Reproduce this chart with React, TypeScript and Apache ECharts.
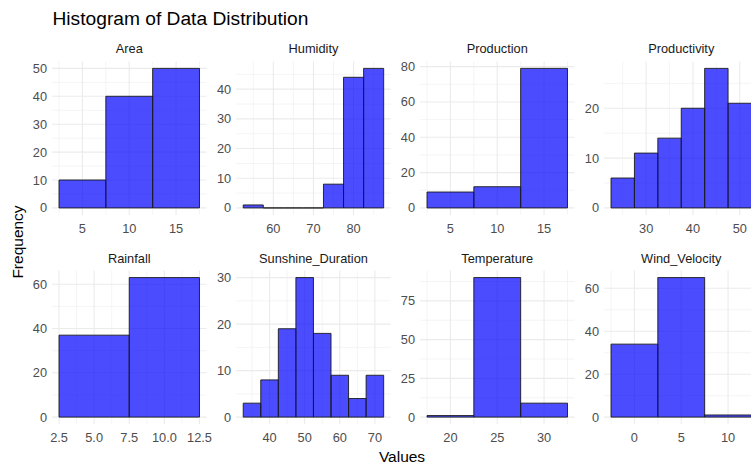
import React, { useEffect, useRef } from "react";
import * as echarts from "echarts";

// ---------- data ----------
const variables = [
  "Area",
  "Humidity",
  "Production",
  "Productivity",
  "Rainfall",
  "Sunshine_Duration",
  "Temperature",
  "Wind_Velocity",
];
const binWidth = 5;
const areaBinStarts = [2.5, 7.5, 12.5];
const areaCounts = [10, 40, 50];
const humidityBinStarts = [52.5, 57.5, 62.5, 67.5, 72.5, 77.5, 82.5];
const humidityCounts = [1, 0, 0, 0, 8, 44, 47];
const productionBinStarts = [2.5, 7.5, 12.5];
const productionCounts = [9, 12, 79];
const productivityBinStarts = [22.5, 27.5, 32.5, 37.5, 42.5, 47.5];
const productivityCounts = [6, 11, 14, 20, 28, 21];
const rainfallBinStarts = [2.5, 7.5];
const rainfallCounts = [37, 63];
const sunshineBinStarts = [32.5, 37.5, 42.5, 47.5, 52.5, 57.5, 62.5, 67.5];
const sunshineCounts = [3, 8, 19, 30, 18, 9, 4, 9];
const temperatureBinStarts = [17.5, 22.5, 27.5];
const temperatureCounts = [1, 90, 9];
const windBinStarts = [-2.5, 2.5, 7.5];
const windCounts = [34, 65, 1];

const binStarts = [
  areaBinStarts,
  humidityBinStarts,
  productionBinStarts,
  productivityBinStarts,
  rainfallBinStarts,
  sunshineBinStarts,
  temperatureBinStarts,
  windBinStarts,
];
const counts = [
  areaCounts,
  humidityCounts,
  productionCounts,
  productivityCounts,
  rainfallCounts,
  sunshineCounts,
  temperatureCounts,
  windCounts,
];

// tick label steps per panel
const xTickSteps = [5, 10, 5, 10, 2.5, 10, 5, 5];
const yTickSteps = [10, 10, 20, 10, 20, 10, 25, 20];
const xLabelDecimals = [0, 0, 0, 0, 1, 0, 0, 0];

const chartTitle = "Histogram of Data Distribution";
const xTitle = "Values";
const yTitle = "Frequency";

// ---------- layout ----------
const W = 751;
const H = 468;
const FONT = "Arial, 'Liberation Sans', Helvetica, sans-serif";
const panelLefts = [52, 236.2, 420, 604];
const panelTops = [61.4, 270.6];
const panelW = 154.5;
const panelH = 153.5;
const axisTextColor = "#4d4d4d";
const axisFont = 12.8;

function buildOption() {
  const grids: any[] = [];
  const xAxes: any[] = [];
  const yAxes: any[] = [];
  const series: any[] = [];
  const graphics: any[] = [];

  variables.forEach((name, i) => {
    const col = i % 4;
    const row = Math.floor(i / 4);
    const left = panelLefts[col];
    const top = panelTops[row];
    grids.push({
      left,
      top,
      width: panelW,
      height: panelH,
      containLabel: false,
      outerBoundsMode: "none",
    });

    const starts = binStarts[i];
    const cnt = counts[i];
    const lo = starts[0];
    const hi = starts[starts.length - 1] + binWidth;
    const xPad = (hi - lo) * 0.05;
    const xMin = lo - xPad;
    const xMax = hi + xPad;
    const yTop = Math.max(...cnt);
    const yMin = -yTop * 0.05;
    const yMax = yTop * 1.05;
    const xs = xTickSteps[i];
    const ys = yTickSteps[i];
    const dec = xLabelDecimals[i];

    xAxes.push({
      type: "value",
      gridIndex: i,
      min: xMin,
      max: xMax,
      minInterval: xs,
      maxInterval: xs,
      axisLine: { show: false },
      axisTick: { show: false },
      splitLine: { show: false },
      axisLabel: {
        showMinLabel: false,
        showMaxLabel: false,
        color: axisTextColor,
        fontSize: axisFont,
        fontFamily: FONT,
        margin: 7,
        formatter: (v: number) => v.toFixed(dec),
      },
    });
    yAxes.push({
      type: "value",
      gridIndex: i,
      min: yMin,
      max: yMax,
      minInterval: ys,
      maxInterval: ys,
      axisLine: { show: false },
      axisTick: { show: false },
      splitLine: { show: false },
      axisLabel: {
        showMinLabel: false,
        showMaxLabel: false,
        color: axisTextColor,
        fontSize: axisFont,
        fontFamily: FONT,
        margin: 5,
        formatter: (v: number) => String(Math.round(v)),
      },
    });

    // grid lines (major at ticks, minor halfway)
    const gl: number[][] = [];
    const xh = xs / 2;
    for (let v = Math.ceil(xMin / xh) * xh; v <= xMax + 1e-9; v += xh) {
      const major = Math.abs(v / xs - Math.round(v / xs)) < 1e-9 ? 1 : 0;
      gl.push([0, v, major]);
    }
    const yh = ys / 2;
    for (let v = Math.ceil(yMin / yh) * yh; v <= yMax + 1e-9; v += yh) {
      const major = Math.abs(v / ys - Math.round(v / ys)) < 1e-9 ? 1 : 0;
      gl.push([1, v, major]);
    }
    series.push({
      type: "custom",
      xAxisIndex: i,
      yAxisIndex: i,
      silent: true,
      z: 1,
      data: gl,
      renderItem: (params: any, api: any) => {
        const cs = params.coordSys;
        const kind = api.value(0);
        const v = api.value(1);
        const major = api.value(2);
        const style = { stroke: "#ebebeb", lineWidth: major ? 1.1 : 0.55 };
        if (kind === 0) {
          const px = api.coord([v, 0])[0];
          return {
            type: "line",
            shape: { x1: px, y1: cs.y, x2: px, y2: cs.y + cs.height },
            style,
          };
        }
        const py = api.coord([xMin, v])[1];
        return {
          type: "line",
          shape: { x1: cs.x, y1: py, x2: cs.x + cs.width, y2: py },
          style,
        };
      },
    });

    // histogram bars
    series.push({
      type: "custom",
      name,
      xAxisIndex: i,
      yAxisIndex: i,
      z: 2,
      encode: { x: [0, 1], y: 2 },
      data: starts.map((s, k) => [s, s + binWidth, cnt[k]]),
      renderItem: (params: any, api: any) => {
        const p0 = api.coord([api.value(0), 0]);
        const p1 = api.coord([api.value(1), api.value(2)]);
        return {
          type: "rect",
          shape: {
            x: p0[0],
            y: p1[1],
            width: p1[0] - p0[0],
            height: p0[1] - p1[1],
          },
          style: {
            fill: "rgba(0,0,255,0.7)",
            stroke: "#1a1a1a",
            lineWidth: 0.9,
          },
        };
      },
    });

    // strip label
    graphics.push({
      type: "text",
      x: left + panelW / 2,
      y: top - 12.5,
      style: {
        text: name,
        textAlign: "center",
        textVerticalAlign: "middle",
        fontSize: axisFont,
        fontFamily: FONT,
        fill: "#1a1a1a",
      },
    });
  });

  graphics.push({
    type: "text",
    x: 52.5,
    y: 18.3,
    style: {
      text: chartTitle,
      textAlign: "left",
      textVerticalAlign: "middle",
      fontSize: 19.2,
      fontFamily: FONT,
      fill: "#000",
    },
  });
  graphics.push({
    type: "text",
    x: 402,
    y: 456,
    style: {
      text: xTitle,
      textAlign: "center",
      textVerticalAlign: "middle",
      fontSize: 15.5,
      fontFamily: FONT,
      fill: "#000",
    },
  });
  graphics.push({
    type: "text",
    x: 17,
    y: 242,
    rotation: Math.PI / 2,
    style: {
      text: yTitle,
      textAlign: "center",
      textVerticalAlign: "middle",
      fontSize: 15.5,
      fontFamily: FONT,
      fill: "#000",
    },
  });

  return {
    animation: false,
    backgroundColor: "#ffffff",
    textStyle: { fontFamily: FONT },
    grid: grids,
    xAxis: xAxes,
    yAxis: yAxes,
    series,
    graphic: { elements: graphics },
  };
}

export default function App() {
  const ref = useRef<HTMLDivElement>(null);
  useEffect(() => {
    if (!ref.current) return;
    const chart = echarts.init(ref.current, null, { renderer: "svg" });
    chart.setOption(buildOption() as any);
    return () => chart.dispose();
  }, []);
  return (
    <div
      ref={ref}
      style={{
        position: "fixed",
        left: 0,
        top: 0,
        width: W,
        height: H,
        background: "#fff",
      }}
    />
  );
}
